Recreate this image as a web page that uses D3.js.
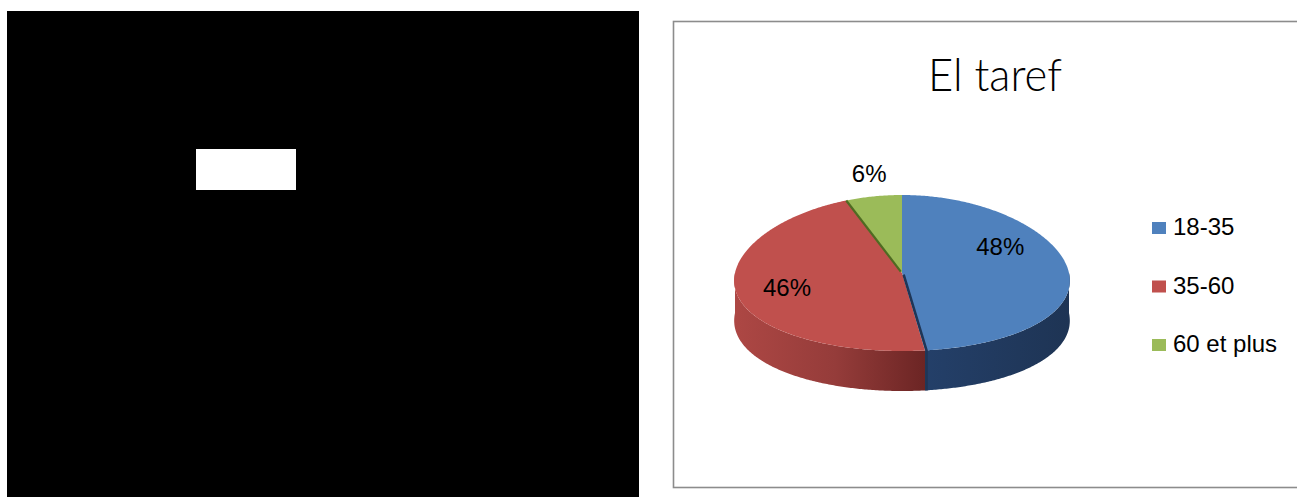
<!DOCTYPE html>
<html>
<head>
<meta charset="utf-8">
<script src="https://cdn.jsdelivr.net/npm/d3@7"></script>
<style>
  html, body { margin: 0; padding: 0; background: #ffffff; }
  svg { display: block; }
</style>
</head>
<body>
<svg id="chart" width="1297" height="497"></svg>
<script>
// ---- data ----
const title = "El taref";
const categories = ["18-35", "35-60", "60 et plus"];
const values = [48, 46, 6];

// ---- styles ----
const topColors = ["#4f81bd", "#c0504d", "#9bbb59"];
const faceColors = ["#1f3657", "#7a2c2a", "#4f6b22"];
const wallStops = [
  ["#1c3150", "#24406a", "#1e3454"],
  ["#ad4744", "#953c3a", "#6a2423"],
  ["#6f8f36", "#6f8f36", "#5a7628"]
];
// label placement: [angle in degrees clockwise from top, radius fraction]
const labelPlace = [[60.5, 0.70], [255, 0.70], [350, 1.30]];

const svg = d3.select("#chart");
const W = 1297, H = 497;

// left black panel with white box
svg.append("rect").attr("x", 7).attr("y", 11).attr("width", 632).attr("height", H - 11).attr("fill", "#000");
svg.append("rect").attr("x", 196).attr("y", 149).attr("width", 100).attr("height", 41).attr("fill", "#fff");

// chart frame
svg.append("rect").attr("x", 673.5).attr("y", 21.5).attr("width", 660).attr("height", 466)
  .attr("fill", "#fff").attr("stroke", "#8c8c8c").attr("stroke-width", 1.6);

// title
svg.append("text").attr("x", 995).attr("y", 91).attr("text-anchor", "middle")
  .attr("font-family", "Lato, 'Open Sans', sans-serif").attr("font-weight", 300)
  .attr("font-size", 46).attr("fill", "#000")
  .attr("textLength", 134).attr("lengthAdjust", "spacingAndGlyphs")
  .text(title);

// ---- 3D pie ----
const cx = 902, cy = 273, rx = 167, ry = 78, depth = 40, persp = 0.1;
const total = d3.sum(values);
const arcs = d3.pie().sort(null).value(d => d)(values);

function P(theta, r, z) {
  const s = 1 - persp * r * Math.cos(theta);
  return [cx + rx * r * Math.sin(theta) * s, cy - ry * r * Math.cos(theta) + z * depth];
}
function arcPts(a0, a1, z) {
  const n = Math.max(2, Math.ceil(Math.abs(a1 - a0) / 0.01));
  const pts = [];
  for (let k = 0; k <= n; k++) pts.push(P(a0 + (a1 - a0) * k / n, 1, z));
  return pts;
}
const line = d3.line();

const defs = svg.append("defs");
arcs.forEach((a, i) => {
  const g = defs.append("linearGradient").attr("id", "wall" + i)
    .attr("gradientUnits", "userSpaceOnUse")
    .attr("x1", cx - rx).attr("x2", cx + rx).attr("y1", 0).attr("y2", 0);
  const st = wallStops[i];
  if (i === 0) {
    g.append("stop").attr("offset", 0.1).attr("stop-color", st[0]);
    g.append("stop").attr("offset", 0.55).attr("stop-color", st[1]);
    g.append("stop").attr("offset", 1).attr("stop-color", st[2]);
  } else {
    g.append("stop").attr("offset", 0).attr("stop-color", st[0]);
    g.append("stop").attr("offset", 0.3).attr("stop-color", st[1]);
    g.append("stop").attr("offset", 0.58).attr("stop-color", st[2]);
  }
});

const pie = svg.append("g");

// outer walls (front half only)
arcs.forEach((a, i) => {
  const lo = Math.max(a.startAngle, Math.PI / 2);
  const hi = Math.min(a.endAngle, 3 * Math.PI / 2);
  if (hi <= lo) return;
  const pts = arcPts(lo, hi, 0).concat(arcPts(hi, lo, 1));
  pie.append("path").attr("d", line(pts) + "Z").attr("fill", "url(#wall" + i + ")");
});

// top faces
arcs.forEach((a, i) => {
  const pts = [P(0, 0, 0)].concat(arcPts(a.startAngle, a.endAngle, 0));
  pie.append("path").attr("d", line(pts) + "Z").attr("fill", topColors[i]);
});

// dark seam between the first slice and the second (top and down the wall)
{
  const th = arcs[0].endAngle;
  const c = P(th, 0.02, 0), e = P(th, 1, 0), b = P(th, 1, 1);
  pie.append("path").attr("d", line([[c[0] + 1.2, c[1]], [e[0] + 1.5, e[1]], [b[0] + 1.5, b[1]]]))
    .attr("stroke", faceColors[0]).attr("stroke-width", 2.6).attr("fill", "none");
}
// dark edge where the small slice meets its neighbour
{
  const i = arcs.length - 1, th = arcs[i].startAngle;
  pie.append("path").attr("d", line([P(th, 0.02, 0), P(th, 1, 0)]))
    .attr("stroke", faceColors[i]).attr("stroke-width", 2.2).attr("fill", "none");
}

// data labels
arcs.forEach((a, i) => {
  const [deg, r] = labelPlace[i];
  const p = P(deg * Math.PI / 180, r, 0);
  svg.append("text").attr("x", p[0]).attr("y", p[1]).attr("dy", "0.36em")
    .attr("text-anchor", "middle")
    .attr("font-family", "'Liberation Sans', Arial, sans-serif").attr("font-size", 24)
    .attr("fill", "#000")
    .text(Math.round(values[i] / total * 100) + "%");
});

// legend
const legend = svg.append("g");
categories.forEach((c, i) => {
  const y = 235 + i * 58.5;
  legend.append("rect").attr("x", 1152).attr("y", y - 13).attr("width", 14).attr("height", 12)
    .attr("fill", topColors[i]);
  legend.append("text").attr("x", 1173).attr("y", y)
    .attr("font-family", "'Liberation Sans', Arial, sans-serif").attr("font-size", 24)
    .attr("fill", "#000").text(c);
});
</script>
</body>
</html>
